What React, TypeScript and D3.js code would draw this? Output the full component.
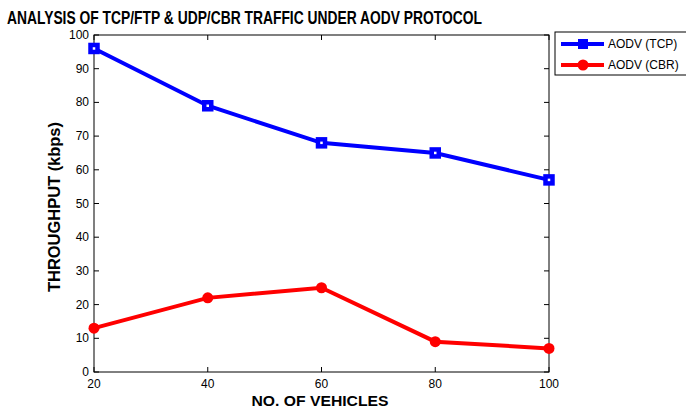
import React, { useEffect, useRef } from "react";
import * as d3 from "d3";

const vehicles = [20, 40, 60, 80, 100];
const tcpThroughput = [96, 79, 68, 65, 57];
const cbrThroughput = [13, 22, 25, 9, 7];
const yTicks = [0, 10, 20, 30, 40, 50, 60, 70, 80, 90, 100];
const seriesNames = ["AODV (TCP)", "AODV (CBR)"];

const W = 686;
const H = 412;

const App: React.FC = () => {
  const ref = useRef<SVGSVGElement>(null);

  useEffect(() => {
    if (!ref.current) return;
    const margin = { top: 35, right: 137, bottom: 40, left: 94 };
    const pw = W - margin.left - margin.right;
    const ph = H - margin.top - margin.bottom;
    const font = "Liberation Sans, Arial, sans-serif";

    const svg = d3.select(ref.current).html("");
    svg.append("rect").attr("width", W).attr("height", H).attr("fill", "#fff");

    // title
    svg
      .append("text")
      .attr("x", 7)
      .attr("y", 24)
      .attr("font-family", font)
      .attr("font-weight", "bold")
      .attr("font-size", 18)
      .attr("textLength", 475)
      .attr("lengthAdjust", "spacingAndGlyphs")
      .text("ANALYSIS OF TCP/FTP & UDP/CBR TRAFFIC UNDER AODV PROTOCOL");

    const g = svg.append("g").attr("transform", `translate(${margin.left},${margin.top})`);

    const x = d3.scaleLinear().domain([20, 100]).range([0, pw]);
    const y = d3.scaleLinear().domain([0, 100]).range([ph, 0]);

    // frame
    g.append("rect")
      .attr("width", pw)
      .attr("height", ph)
      .attr("fill", "none")
      .attr("stroke", "#000")
      .attr("stroke-width", 1);

    // ticks pointing inward, on all four sides
    const tl = 5;
    vehicles.forEach((v) => {
      g.append("line").attr("x1", x(v)).attr("x2", x(v)).attr("y1", ph).attr("y2", ph - tl).attr("stroke", "#000");
      g.append("line").attr("x1", x(v)).attr("x2", x(v)).attr("y1", 0).attr("y2", tl).attr("stroke", "#000");
      g.append("text")
        .attr("x", x(v))
        .attr("y", ph + 16)
        .attr("text-anchor", "middle")
        .attr("font-family", font)
        .attr("font-size", 12)
        .text(v);
    });
    yTicks.forEach((t) => {
      g.append("line").attr("x1", 0).attr("x2", tl).attr("y1", y(t)).attr("y2", y(t)).attr("stroke", "#000");
      g.append("line").attr("x1", pw).attr("x2", pw - tl).attr("y1", y(t)).attr("y2", y(t)).attr("stroke", "#000");
      g.append("text")
        .attr("x", -5)
        .attr("y", y(t) + 4)
        .attr("text-anchor", "end")
        .attr("font-family", font)
        .attr("font-size", 12)
        .text(t);
    });

    // axis labels
    svg
      .append("text")
      .attr("x", 320)
      .attr("y", 406)
      .attr("text-anchor", "middle")
      .attr("font-family", font)
      .attr("font-weight", "bold")
      .attr("font-size", 14)
      .attr("textLength", 137)
      .attr("lengthAdjust", "spacingAndGlyphs")
      .text("NO. OF VEHICLES");
    svg
      .append("text")
      .attr("transform", `translate(60,207) rotate(-90)`)
      .attr("text-anchor", "middle")
      .attr("font-family", font)
      .attr("font-weight", "bold")
      .attr("font-size", 16)
      .attr("textLength", 170)
      .attr("lengthAdjust", "spacingAndGlyphs")
      .text("THROUGHPUT (kbps)");

    const line = d3
      .line<number>()
      .x((_, i) => x(vehicles[i]))
      .y((d) => y(d));

    // TCP series
    g.append("path")
      .datum(tcpThroughput)
      .attr("d", line)
      .attr("fill", "none")
      .attr("stroke", "#0000ff")
      .attr("stroke-width", 4);
    g.selectAll(".sq")
      .data(tcpThroughput)
      .enter()
      .append("rect")
      .attr("x", (_, i) => x(vehicles[i]) - 3.5)
      .attr("y", (d) => y(d) - 3.5)
      .attr("width", 7)
      .attr("height", 7)
      .attr("fill", "#fff")
      .attr("stroke", "#0000ff")
      .attr("stroke-width", 4.5);

    // CBR series
    g.append("path")
      .datum(cbrThroughput)
      .attr("d", line)
      .attr("fill", "none")
      .attr("stroke", "#ff0000")
      .attr("stroke-width", 4);
    g.selectAll(".ci")
      .data(cbrThroughput)
      .enter()
      .append("circle")
      .attr("cx", (_, i) => x(vehicles[i]))
      .attr("cy", (d) => y(d))
      .attr("r", 5.5)
      .attr("fill", "#ff0000");

    // legend
    const lg = svg.append("g").attr("transform", "translate(555,32)");
    lg.append("rect")
      .attr("width", 140)
      .attr("height", 43)
      .attr("fill", "#fff")
      .attr("stroke", "#000");
    seriesNames.forEach((name, i) => {
      const cy = 12 + i * 21;
      const color = i === 0 ? "#0000ff" : "#ff0000";
      lg.append("line").attr("x1", 6).attr("x2", 49).attr("y1", cy).attr("y2", cy).attr("stroke", color).attr("stroke-width", 4);
      if (i === 0) {
        lg.append("rect")
          .attr("x", 23)
          .attr("y", cy - 5)
          .attr("width", 10)
          .attr("height", 10)
          .attr("fill", color);
      } else {
        lg.append("circle").attr("cx", 28).attr("cy", cy).attr("r", 5.5).attr("fill", color);
      }
      lg.append("text")
        .attr("x", 53)
        .attr("y", cy + 4)
        .attr("font-family", font)
        .attr("font-size", 12)
        .text(name);
    });
  }, []);

  return (
    <svg
      ref={ref}
      width={W}
      height={H}
      style={{ position: "absolute", left: 0, top: 0, display: "block" }}
    />
  );
};

export default App;
